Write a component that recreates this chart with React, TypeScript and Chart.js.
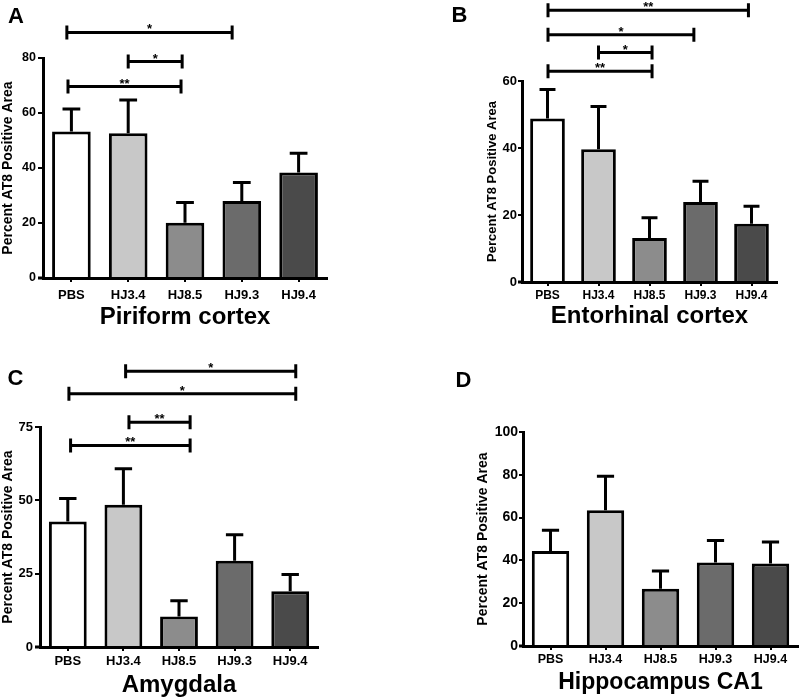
import React, { useEffect, useRef } from "react";
import { Chart, registerables } from "chart.js";

Chart.register(...registerables);

const FONT = "Arial, 'Liberation Sans', Helvetica, sans-serif";
Chart.defaults.font.family = FONT;
Chart.defaults.color = "#000";

// ---------- data ----------
const categories = ["PBS", "HJ3.4", "HJ8.5", "HJ9.3", "HJ9.4"];
const barColors = ["#ffffff", "#c8c8c8", "#8c8c8c", "#6b6b6b", "#4a4a4a"];
const yAxisLabel = "Percent AT8 Positive Area";

const piriformMean = [53.3, 52.6, 20.1, 28.0, 38.4];
const piriformSem = [8.2, 12.1, 7.4, 6.7, 7.0];
const piriformAxis = [0, 80, 20]; // min, max, step
// [from category, to category, height, label]
const piriformBrackets: [number, number, number, string][] = [
  [-0.06, 1.93, 69.6, "**"],
  [1.0, 1.95, 78.7, "*"],
  [-0.08, 2.83, 89.3, "*"],
];

const entorhinalMean = [48.8, 39.6, 13.1, 23.9, 17.4];
const entorhinalSem = [8.7, 12.8, 6.1, 6.2, 5.2];
const entorhinalAxis = [0, 60, 20];
const entorhinalBrackets: [number, number, number, string][] = [
  [0.01, 2.05, 62.9, "**"],
  [1.0, 2.05, 68.5, "*"],
  [0.01, 2.87, 73.8, "*"],
  [0.01, 3.94, 81.1, "**"],
];

const amygdalaMean = [42.8, 48.5, 10.4, 29.4, 19.0];
const amygdalaSem = [7.8, 12.3, 5.4, 8.9, 5.7];
const amygdalaAxis = [0, 75, 25];
const amygdalaBrackets: [number, number, number, string][] = [
  [0.05, 2.2, 68.7, "**"],
  [1.1, 2.2, 76.6, "**"],
  [0.02, 4.1, 86.3, "*"],
  [1.04, 4.1, 94.0, "*"],
];

const ca1Mean = [44.4, 63.4, 26.8, 39.0, 38.5];
const ca1Sem = [9.7, 15.9, 8.2, 10.3, 10.1];
const ca1Axis = [0, 100, 20];
const ca1Brackets: [number, number, number, string][] = [];

// ---------- layout ----------
type Box = { l: number; t: number; w: number; h: number };
type Plot = { l: number; t: number; r: number; b: number };
type PanelCfg = {
  letter: string;
  title: string;
  means: number[];
  sems: number[];
  axis: number[];
  brackets: [number, number, number, string][];
  canvas: Box;
  plot: Plot;
  yTitleSize: number;
  yTitleX: number;
  yTickSize: number;
  yTickLen: number;
  yTickPad: number;
  xTickSize: number;
  titleSize: number;
  titleY: number;
  xLabelY: number;
  letterPos: [number, number];
};

const panels: PanelCfg[] = [
  {
    letter: "A", title: "Piriform cortex", means: piriformMean, sems: piriformSem,
    axis: piriformAxis, brackets: piriformBrackets,
    canvas: { l: 0, t: 0, w: 400, h: 340 }, plot: { l: 43, t: 58, r: 327, b: 278 },
    yTitleSize: 14, yTitleX: 8, yTickSize: 12.5, yTickLen: 5, yTickPad: 2, xTickSize: 13,
    titleSize: 24, titleY: 317.5, xLabelY: 295, letterPos: [8, 22.7],
  },
  {
    letter: "B", title: "Entorhinal cortex", means: entorhinalMean, sems: entorhinalSem,
    axis: entorhinalAxis, brackets: entorhinalBrackets,
    canvas: { l: 400, t: 0, w: 400, h: 340 }, plot: { l: 522, t: 81, r: 777, b: 282 },
    yTitleSize: 13, yTitleX: 492.5, yTickSize: 13, yTickLen: 4, yTickPad: 1, xTickSize: 12,
    titleSize: 24, titleY: 316.7, xLabelY: 296, letterPos: [451.5, 22.3],
  },
  {
    letter: "C", title: "Amygdala", means: amygdalaMean, sems: amygdalaSem,
    axis: amygdalaAxis, brackets: amygdalaBrackets,
    canvas: { l: 0, t: 340, w: 400, h: 360 }, plot: { l: 40, t: 427, r: 318, b: 647 },
    yTitleSize: 14, yTitleX: 7, yTickSize: 13, yTickLen: 5, yTickPad: 2, xTickSize: 13,
    titleSize: 24, titleY: 686, xLabelY: 661.7, letterPos: [7.5, 385],
  },
  {
    letter: "D", title: "Hippocampus CA1", means: ca1Mean, sems: ca1Sem,
    axis: ca1Axis, brackets: ca1Brackets,
    canvas: { l: 400, t: 340, w: 400, h: 360 }, plot: { l: 523, t: 432, r: 798, b: 646 },
    yTitleSize: 14, yTitleX: 483.3, yTickSize: 14, yTickLen: 4, yTickPad: 1, xTickSize: 12.5,
    titleSize: 23, titleY: 682.5, xLabelY: 660, letterPos: [455.5, 386.5],
  },
];

const X_TICK_LEN = 4;

function Panel({ cfg }: { cfg: PanelCfg }) {
  const ref = useRef<HTMLCanvasElement>(null);
  useEffect(() => {
    const cv = cfg.canvas;
    const plot = cfg.plot;
    const annotate = {
      id: "annotate" + cfg.letter,
      afterDatasetsDraw(chart: any) {
        const ctx = chart.ctx as CanvasRenderingContext2D;
        const xs = chart.scales.x;
        const ys = chart.scales.y;
        const meta = chart.getDatasetMeta(0);
        ctx.save();
        ctx.strokeStyle = "#000";
        ctx.fillStyle = "#000";
        ctx.lineWidth = 3;
        ctx.lineCap = "butt";
        // error bars (SEM, upper only)
        cfg.sems.forEach((s, i) => {
          const bar = meta.data[i];
          const { x, width } = bar.getProps(["x", "width"], true);
          const base = ys.getPixelForValue(cfg.means[i]);
          const top = ys.getPixelForValue(cfg.means[i] + s);
          const half = width * 0.23;
          ctx.beginPath();
          ctx.moveTo(x, base);
          ctx.lineTo(x, top);
          ctx.moveTo(x - half, top);
          ctx.lineTo(x + half, top);
          ctx.stroke();
        });
        // x axis line continues under the y tick marks
        const ca = chart.chartArea;
        ctx.beginPath();
        ctx.moveTo(ca.left - cfg.yTickLen, ca.bottom);
        ctx.lineTo(ca.left, ca.bottom);
        ctx.stroke();
        // significance brackets
        ctx.font = `bold 13px ${FONT}`;
        ctx.textAlign = "center";
        ctx.textBaseline = "alphabetic";
        cfg.brackets.forEach(([a, b, h, label]) => {
          const x1 = xs.getPixelForValue(a);
          const x2 = xs.getPixelForValue(b);
          const y = ys.getPixelForValue(h);
          ctx.beginPath();
          ctx.moveTo(x1, y);
          ctx.lineTo(x2, y);
          ctx.moveTo(x1, y - 7);
          ctx.lineTo(x1, y + 7);
          ctx.moveTo(x2, y - 7);
          ctx.lineTo(x2, y + 7);
          ctx.stroke();
          ctx.fillText(label, (x1 + x2) / 2, y + 1);
        });
        // panel letter
        ctx.font = `bold 22px ${FONT}`;
        ctx.textAlign = "left";
        ctx.fillText(cfg.letter, cfg.letterPos[0] - cv.l, cfg.letterPos[1] - cv.t);
        ctx.restore();
      },
    };

    const xPad = Math.max(0, cfg.xLabelY - plot.b - X_TICK_LEN - (cfg.xTickSize * 1.2) / 2);

    const chart = new Chart(ref.current as HTMLCanvasElement, {
      type: "bar",
      data: {
        labels: categories,
        datasets: [
          {
            data: cfg.means,
            backgroundColor: barColors,
            borderColor: "#000",
            borderWidth: 3,
            borderSkipped: "start",
            barPercentage: 0.68,
            categoryPercentage: 1,
          },
        ],
      },
      options: {
        responsive: false,
        animation: false,
        devicePixelRatio: 1,
        layout: {
          padding: { left: 0, top: plot.t - cv.t, right: cv.l + cv.w - plot.r, bottom: 0 },
        },
        plugins: { legend: { display: false }, tooltip: { enabled: false } },
        scales: {
          x: {
            offset: true,
            grid: {
              display: true,
              drawOnChartArea: false,
              drawTicks: true,
              tickLength: X_TICK_LEN,
              offset: false,
              color: "#000",
              lineWidth: 2,
            },
            border: { display: true, color: "#000", width: 3 },
            ticks: {
              font: { size: cfg.xTickSize, weight: "bold" },
              color: "#000",
              padding: xPad,
              maxRotation: 0,
              autoSkip: false,
            },
            title: {
              display: true,
              text: cfg.title,
              color: "#000",
              font: { size: cfg.titleSize, weight: "bold" },
              padding: {
                top: 0,
                bottom: Math.max(0, cv.t + cv.h - cfg.titleY - (cfg.titleSize * 1.2) / 2),
              },
            },
            afterFit: (s: any) => {
              s.height = cv.t + cv.h - plot.b;
            },
          },
          y: {
            min: cfg.axis[0],
            max: cfg.axis[1],
            grid: {
              display: true,
              drawOnChartArea: false,
              drawTicks: true,
              tickLength: cfg.yTickLen,
              color: "#000",
              lineWidth: 2,
            },
            border: { display: true, color: "#000", width: 3 },
            ticks: {
              stepSize: cfg.axis[2],
              font: { size: cfg.yTickSize, weight: "bold" },
              color: "#000",
              padding: cfg.yTickPad,
            },
            title: {
              display: true,
              text: yAxisLabel,
              color: "#000",
              font: { size: cfg.yTitleSize, weight: "bold" },
              padding: {
                top: Math.max(0, cfg.yTitleX - cv.l - (cfg.yTitleSize * 1.2) / 2),
                bottom: 0,
              },
            },
            afterFit: (s: any) => {
              s.width = plot.l - cv.l;
            },
          },
        },
      } as any,
      plugins: [annotate],
    });
    return () => chart.destroy();
  }, [cfg]);

  return (
    <canvas
      ref={ref}
      width={cfg.canvas.w}
      height={cfg.canvas.h}
      style={{
        position: "absolute",
        left: cfg.canvas.l,
        top: cfg.canvas.t,
        width: cfg.canvas.w,
        height: cfg.canvas.h,
      }}
    />
  );
}

export default function App() {
  return (
    <div
      style={{
        position: "absolute",
        left: 0,
        top: 0,
        width: 800,
        height: 700,
        background: "#fff",
        overflow: "hidden",
      }}
    >
      {panels.map((p) => (
        <Panel key={p.letter} cfg={p} />
      ))}
    </div>
  );
}
